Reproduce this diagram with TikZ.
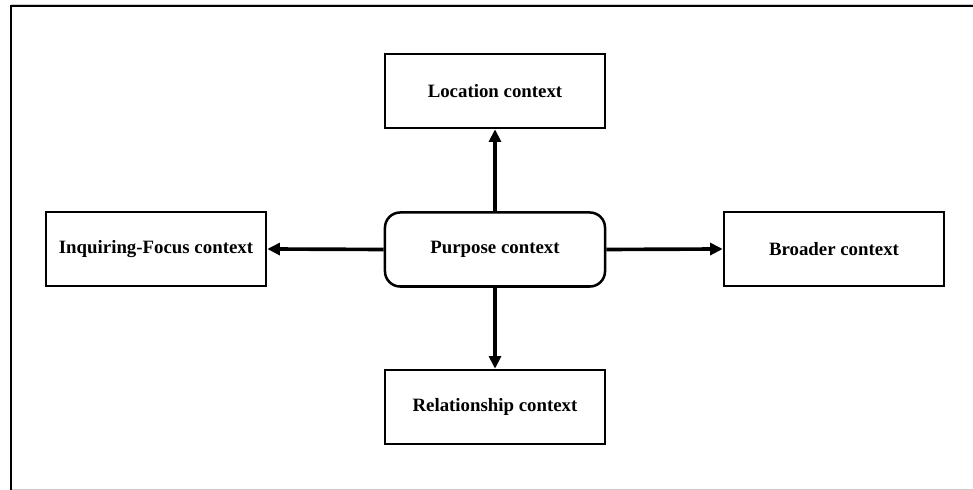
\documentclass[tikz,border=0pt]{standalone}
\usepackage{fontspec}
\setmainfont{Liberation Serif}
\usepackage{tikz}
\usetikzlibrary{arrows.meta,shapes}
\tikzstyle{ctxbox}=[rectangle,draw,line width=1.8pt,minimum width=5.5cm,minimum height=1.85cm,inner sep=0pt,font=\fontsize{13.4}{16}\selectfont\bfseries]
\tikzstyle{centerbox}=[ctxbox,rounded corners=0.38cm]
\tikzstyle{edge} = [draw,line width=2.6pt,-{Triangle[length=9pt,width=8.5pt]}]

\begin{document}
\begin{tikzpicture}[x=0.025cm,y=0.025cm]
    \clip (0,0) rectangle (973,490);
    \useasboundingbox (0,0) rectangle (973,490);

    % outer frame
    \draw[black!20,line width=0.6pt] (11,486) -- (973,486);
    \draw[black!20,line width=0.6pt] (11,1) -- (973,1);
    \draw[line width=2pt] (11,-20) -- (11,484) -- (1000,484);

    \node[centerbox] (purpose) at (495,240.5) {Purpose context};

    \foreach \pos/ \name/ \text in {{(495,399)/location/Location context},
        {(156,241)/inquiring/Inquiring-Focus context},
        {(834,241)/broader/Broader context},
        {(495,83)/relationship/Relationship context}}
        \node[ctxbox] (\name) at \pos {\text};

    % arrows out of the purpose box
    \path[edge] (purpose.north) -- (location.south);
    \path[edge] (purpose.west) -- (inquiring.east);
    \path[edge] (purpose.east) -- (broader.west);
    \path[edge] (purpose.south) -- (relationship.north);
\end{tikzpicture}
\end{document}
